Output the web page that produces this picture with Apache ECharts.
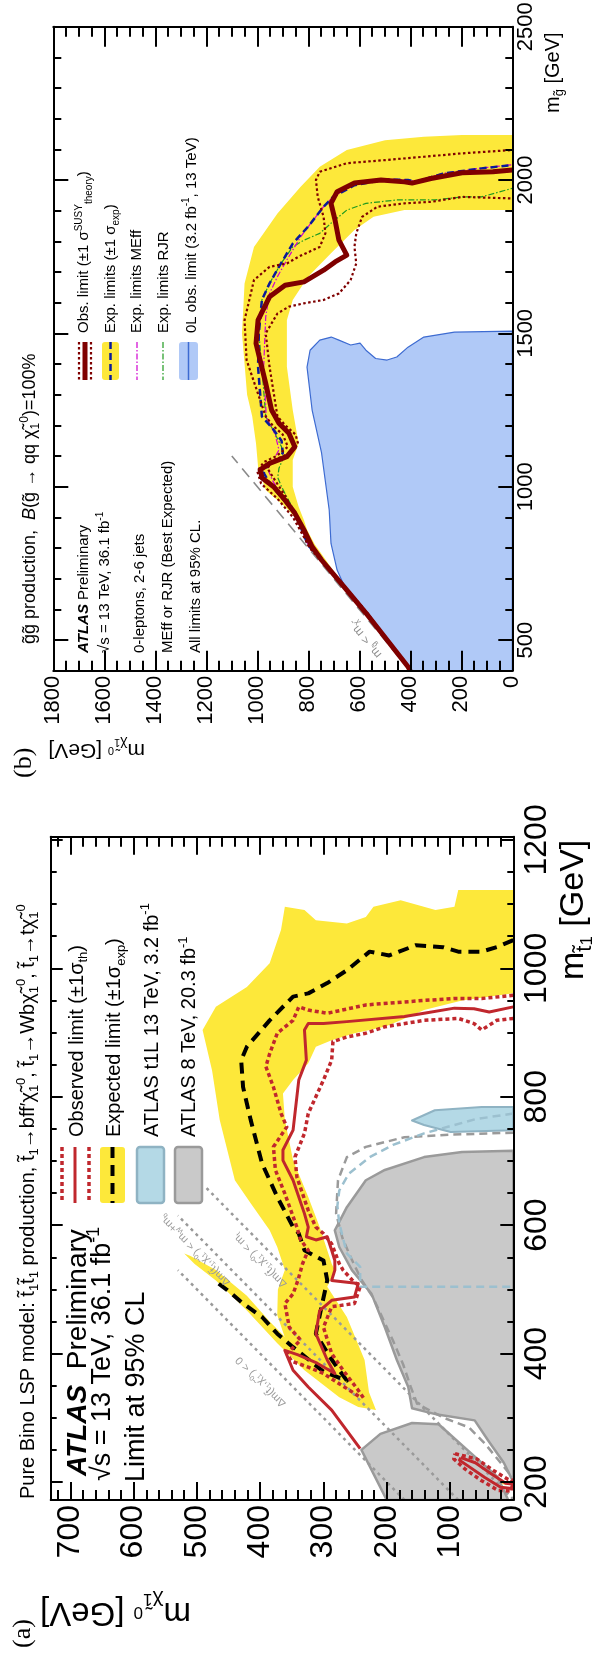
<!DOCTYPE html>
<html><head><meta charset="utf-8">
<script src="https://cdn.jsdelivr.net/npm/echarts@6/dist/echarts.min.js"></script>
<style>html,body{margin:0;padding:0;background:#fff}#c{width:604px;height:1656px}</style>
</head><body><div id="c"></div>
<script>
// ---------------- tick values ----------------
const aChiMajor = [0,100,200,300,400,500,600,700];
const aChiMinor = [0,20,40,60,80,100,120,140,160,180,200,220,240,260,280,300,320,340,360,380,400,420,440,460,480,500,520,540,560,580,600,620,640,660,680,700,720];
const aStopMajor = [200,400,600,800,1000,1200];
const aStopMinor = [200,250,300,350,400,450,500,550,600,650,700,750,800,850,900,950,1000,1050,1100,1150,1200];
const bChiMajor = [0,200,400,600,800,1000,1200,1400,1600,1800];
const bChiMinor = [0,50,100,150,200,250,300,350,400,450,500,550,600,650,700,750,800,850,900,950,1000,1050,1100,1150,1200,1250,1300,1350,1400,1450,1500,1550,1600,1650,1700,1750,1800];
const bGlMajor = [500,1000,1500,2000,2500];
const bGlMinor = [400,500,600,700,800,900,1000,1100,1200,1300,1400,1500,1600,1700,1800,1900,2000,2100,2200,2300,2400,2500];

// ---------------- panel (a): [m_chi, m_stop] ----------------
const aExpBandMain = [[0,1122],[87,1122],[93,1096],[123,1091],[178,1106],[221,1096],[233,1080],[263,1070],[312,1075],[330,1091],[361,1096],[367,1060],[385,1008],[421,971],[470,940],[491,904],[476,841],[464,764],[440,670],[415,634],[385,592],[373,566],[361,530],[372,500],[373,460],[361,425],[335,395],[290,360],[250,330],[217,312],[228,340],[235,390],[263,457],[294,504],[282,530],[287,540],[306,597],[324,644],[348,701],[361,764],[364,805],[348,826],[324,852],[312,878],[287,888],[251,899],[203,909],[178,919],[141,935],[81,950],[0,961]];
const aExpBandStrip = [[520,556],[504,540],[470,514],[421,467],[373,416],[330,374],[275,332],[245,317],[217,312],[235,335],[280,360],[330,395],[385,450],[421,490],[470,530],[510,552]];
const aExpBandBlob = [[75,232],[50,218],[25,203],[10,195],[30,200],[55,214],[75,228]];
const aLimit8A = [[0,200],[15,230],[40,265],[61,296],[120,305],[160,315],[166,348],[184,390],[203,441],[224,493],[255,530],[275,566],[282,592],[263,628],[233,670],[203,686],[141,706],[81,714],[0,716]];
const aLimit8B = [[200,172],[240,250],[210,275],[160,292],[118,290],[67,245],[25,208],[8,172]];
const aExp8 = [[0,744],[100,741],[172,737],[233,722],[263,706],[277,670],[280,618],[270,580],[256,548],[240,515],[222,488],[205,452],[190,420],[174,383],[162,348],[152,322],[110,300],[70,285],[45,260],[20,230],[0,205]];
const aT1L = [[0,784],[50,784],[124,779],[160,763],[141,756],[99,745],[0,748]];
const aT1LExp = [[0,774],[60,765],[141,743],[190,725],[227,706],[260,680],[275,654],[278,630],[275,603],[263,556],[242,535],[242,504],[0,504]];
const aDm0 = [[172,172],[530,530]];
const aDmWb = [[87,172],[530,615]];
const aDmT = [[0,173],[488,661]];
const aExp = [[0,1044],[26,1033],[50,1026],[87,1026],[111,1033],[154,1036],[196,1020],[227,1026],[263,997],[294,977],[324,961],[348,956],[385,919],[421,878],[430,857],[427,815],[415,764],[397,696],[373,644],[348,597],[339,587],[330,561],[312,551],[300,545],[294,514],[303,473],[312,431],[290,395],[275,374],[263,358],[300,372],[348,410],[373,431],[397,457],[427,478],[452,499],[470,512]];
const aObs = [[0,940],[38,932],[62,937],[93,938],[141,930],[172,925],[263,917],[300,914],[324,914],[330,904],[327,857],[339,826],[345,774],[348,748],[364,717],[364,701],[348,670],[330,618],[324,597],[327,582],[312,577],[294,582],[287,561],[282,545],[282,530],[287,514],[245,509],[251,488],[287,483],[306,467],[312,431],[294,390],[282,369],[310,385],[340,398],[361,405],[348,374],[324,348],[287,312],[263,280],[242,252]];
const aObsUp = [[0,958],[50,953],[93,953],[141,950],[233,943],[294,930],[324,935],[339,940],[348,919],[373,899],[385,867],[391,847],[379,815],[367,774],[358,753],[379,722],[376,686],[361,649],[342,597],[336,577],[324,561],[333,540],[340,515],[348,493],[361,478],[354,441],[336,421],[358,400],[350,388],[324,379],[300,369],[275,353],[251,338],[242,332]];
const aObsDn = [[0,922],[26,919],[50,904],[62,914],[87,922],[141,919],[203,909],[233,899],[263,893],[285,886],[287,857],[300,826],[324,774],[330,743],[345,706],[342,675],[324,623],[312,597],[300,587],[287,571],[275,540],[269,530],[255,515],[242,504],[251,478],[287,473],[300,441],[287,400],[269,374],[245,343],[236,330]];
const aObsBlob = [[83,238],[60,230],[35,213],[12,198],[2,197],[2,190],[20,192],[45,207],[70,224],[85,234],[83,238]];
const aObsBlobSig = [[92,244],[58,236],[30,217],[8,204],[2,203],[2,186],[24,187],[50,202],[76,220],[94,236],[92,244]];

// ---------------- panel (b): [m_chi, m_gluino] ----------------
const b0L = [[400,400],[485,500],[580,600],[650,660],[687,728],[711,815],[718,924],[748,1110],[785,1250],[805,1390],[793,1445],[755,1478],[710,1488],[680,1478],[634,1462],[597,1468],[574,1445],[536,1418],[491,1413],[453,1423],[409,1455],[347,1488],[227,1504],[0,1507],[0,400]];
const bExpBand = [[0,2147],[197,2147],[347,2141],[499,2130],[649,2098],[755,2043],[830,1978],[921,1891],[1013,1782],[1050,1663],[1060,1500],[1040,1300],[1020,1230],[1005,1141],[997,1065],[967,989],[891,935],[830,880],[790,815],[700,710],[560,572],[400,400],[555,572],[690,712],[775,812],[805,860],[817,891],[838,935],[861,1000],[861,1087],[838,1141],[861,1250],[884,1391],[884,1543],[861,1609],[801,1685],[711,1761],[619,1837],[544,1880],[423,1902],[272,1902],[121,1902],[0,1902]];
const bObs = [[400,400],[409,413],[574,588],[649,663],[748,761],[785,804],[817,859],[853,914],[891,956],[936,1000],[981,1028],[989,1055],[952,1076],[884,1098],[853,1130],[876,1174],[915,1207],[944,1250],[967,1337],[1005,1467],[997,1543],[952,1619],[891,1657],[817,1668],[740,1706],[695,1733],[649,1755],[680,1804],[695,1869],[711,1924],[687,1962],[619,1990],[515,2000],[423,1994],[393,1990],[319,2005],[197,2024],[76,2027],[0,2033]];
const bObsUp = [[400,400],[570,590],[650,668],[750,765],[800,810],[860,900],[920,960],[985,1010],[1000,1050],[975,1080],[925,1100],[880,1130],[900,1170],[940,1200],[967,1229],[1042,1413],[1050,1543],[1013,1674],[952,1717],[884,1728],[838,1750],[755,1782],[733,1826],[740,1880],[763,1945],[770,2000],[755,2027],[649,2055],[499,2065],[347,2076],[197,2087],[0,2098]];
const bObsDn = [[400,400],[570,585],[645,658],[745,755],[795,800],[850,900],[890,970],[930,1020],[960,1060],[940,1085],[870,1110],[840,1140],[850,1170],[890,1200],[921,1229],[952,1391],[967,1500],[921,1565],[876,1587],[817,1598],[740,1609],[680,1630],[634,1674],[612,1728],[619,1782],[612,1826],[589,1880],[529,1913],[423,1924],[317,1929],[197,1945],[0,1940]];
const bExp = [[400,400],[570,588],[650,665],[750,765],[800,808],[853,914],[900,960],[950,1010],[975,1045],[960,1070],[920,1085],[900,1110],[905,1150],[940,1190],[982,1229],[997,1391],[994,1500],[982,1609],[952,1663],[915,1717],[861,1793],[801,1848],[740,1913],[703,1945],[619,1983],[499,2002],[409,2000],[378,1994],[272,2021],[121,2038],[0,2049]];
const bMEff = [[400,400],[600,620],[700,715],[800,810],[850,905],[900,965],[940,1020],[960,1060],[935,1090],[915,1120],[930,1170],[965,1229],[975,1391],[967,1554],[952,1630],[921,1685],[880,1745],[830,1815],[780,1870],[740,1913],[700,1948],[619,1985],[500,2003],[410,2001],[378,1995],[272,2022],[121,2039],[0,2050]];
const bRJR = [[400,400],[600,620],[700,712],[800,808],[850,914],[880,960],[905,1000],[920,1030],[915,1060],[900,1090],[905,1130],[935,1180],[967,1229],[982,1391],[994,1500],[982,1609],[952,1663],[907,1728],[861,1782],[817,1804],[755,1826],[711,1859],[649,1902],[574,1924],[453,1935],[303,1935],[197,1945],[121,1945],[0,1973]];
const bDiag = [[400,400],[1100,1100]];

// ---------------- styling ----------------
const FF = "'Liberation Sans', Arial, Helvetica, sans-serif";
const YEL = '#fde83a', RED = '#c0272d', MAROON = '#7f0000';
const plainNum = function(v) { return String(v); };

function poly(pts, xi, yi, fill, stroke, lw, z) {
  return {type:'custom', xAxisIndex:xi, yAxisIndex:yi, z:z, silent:true, animation:false, clip:true,
    data: pts,
    renderItem: function(params, api) {
      if (params.dataIndex !== 0) return null;
      return {type:'polygon', shape:{points: pts.map(p => api.coord(p))},
        style:{fill: fill, stroke: stroke || null, lineWidth: lw || 0, lineJoin:'round'}};
    }};
}
function line(pts, xi, yi, color, width, type, z) {
  return {type:'line', data: pts, xAxisIndex:xi, yAxisIndex:yi, showSymbol:false, symbol:'none',
    smooth:false, silent:true, animation:false, clip:true, z:z,
    lineStyle:{color:color, width:width, type:type, cap:'butt', join:'round'}};
}
function xAx(grid, pos, max, ticks, len, showLine, label) {
  return {gridIndex:grid, type:'value', position:pos, inverse:true, min:0, max:max, z:10,
    axisLine:{show:showLine, onZero:false, lineStyle:{color:'#000', width:2}},
    axisTick:{show:true, inside:true, length:len, customValues:ticks, lineStyle:{color:'#000', width:2}},
    axisLabel: label ? Object.assign({show:true, customValues:ticks, rotate:90, color:'#000', fontFamily:FF, formatter:plainNum}, label) : {show:false},
    splitLine:{show:false}, minorTick:{show:false}};
}
function yAx(grid, pos, min, max, ticks, len, showLine, label) {
  return {gridIndex:grid, type:'value', position:pos, min:min, max:max, z:10,
    axisLine:{show:showLine, onZero:false, lineStyle:{color:'#000', width:2}},
    axisTick:{show:true, inside:true, length:len, customValues:ticks, lineStyle:{color:'#000', width:2}},
    axisLabel: label ? Object.assign({show:true, customValues:ticks, rotate:90, color:'#000', fontFamily:FF, formatter:plainNum}, label) : {show:false},
    splitLine:{show:false}, minorTick:{show:false}};
}
const gA = {left:50.7, right:90.7, top:836.7, bottom:156, containLabel:false, outerBoundsMode:'none'};
const gB = {left:53.3, right:91.7, top:26.7, bottom:985.3, containLabel:false, outerBoundsMode:'none'};

const option = {
  backgroundColor:'#fff', animation:false,
  grid:[Object.assign({}, gA), Object.assign({}, gA), Object.assign({}, gB), Object.assign({}, gB)],
  xAxis:[
    xAx(0,'bottom',731,aChiMajor,18,true,{fontSize:32, margin:5}),
    xAx(0,'top',731,aChiMajor,18,true,null),
    xAx(1,'bottom',731,aChiMinor,10,false,null),
    xAx(1,'top',731,aChiMinor,10,false,null),
    xAx(2,'bottom',1800,bChiMajor,20,true,{fontSize:22, margin:5}),
    xAx(2,'top',1800,bChiMajor,20,true,null),
    xAx(3,'bottom',1800,bChiMinor,10,false,null),
    xAx(3,'top',1800,bChiMinor,10,false,null)
  ],
  yAxis:[
    yAx(0,'right',172,1205,aStopMajor,13,true,{fontSize:32, margin:8}),
    yAx(0,'left',172,1205,aStopMajor,12,true,null),
    yAx(1,'right',172,1205,aStopMinor,6,false,null),
    yAx(1,'left',172,1205,aStopMinor,6,false,null),
    yAx(2,'right',400,2500,bGlMajor,14,true,{fontSize:22, margin:3}),
    yAx(2,'left',400,2500,bGlMajor,15,true,null),
    yAx(3,'right',400,2500,bGlMinor,7,false,null),
    yAx(3,'left',400,2500,bGlMinor,8,false,null)
  ],
  series:[
    // panel a
    poly(aExpBandMain,0,0,YEL,null,0,1),
    poly(aExpBandStrip,0,0,YEL,null,0,1),
    poly(aExpBandBlob,0,0,YEL,null,0,1),
    poly(aLimit8A,0,0,'#c9c9c9','#9a9a9a',2.5,2),
    poly(aLimit8B,0,0,'#c9c9c9','#9a9a9a',2.5,2),
    poly(aT1L,0,0,'#b4d9e6','#8fb3c3',2,2),
    line(aExp8,0,0,'#9a9a9a',2.5,[8,5],3),
    line(aT1LExp,0,0,'#9cc0cf',2.5,[8,5],3),
    line(aDm0,0,0,'#9a9a9a',2.5,[3,4],3),
    line(aDmWb,0,0,'#9a9a9a',2.5,[3,4],3),
    line(aDmT,0,0,'#9a9a9a',2.5,[3,4],3),
    line(aExp,0,0,'#000',4,[11,7],4),
    line(aObsUp,0,0,RED,3.5,[4,3],5),
    line(aObsDn,0,0,RED,3.5,[4,3],5),
    line(aObsBlobSig,0,0,RED,3.5,[4,3],5),
    line(aObs,0,0,RED,3,'solid',6),
    line(aObsBlob,0,0,RED,3,'solid',6),
    // panel b
    poly(b0L,4,4,'#b0c9f7','#3d6bd1',1.2,1),
    poly(bExpBand,4,4,YEL,null,0,1),
    line(bDiag,4,4,'#8a8a8a',1.6,[11,7],3),
    line(bRJR,4,4,'#1f9a1f',1.2,[6,2,1.5,2],4),
    line(bMEff,4,4,'#d000d0',1.2,[6,2,1.5,2],4),
    line(bExp,4,4,'#0a1a9a',2.5,[7,4],4),
    line(bObsUp,4,4,MAROON,2.2,[2.5,2.5],5),
    line(bObsDn,4,4,MAROON,2.2,[2.5,2.5],5),
    line(bObs,4,4,MAROON,5,'solid',6)
  ]
};

const chart = echarts.init(document.getElementById('c'), null, {renderer:'canvas', width:604, height:1656});
chart.setOption(option);

// ---------------- texts & legend swatches ----------------
function rich(size, color) {
  const sm = Math.round(size*0.65), tn = Math.round(size*0.5);
  return {
    s:{fontSize:sm, fontFamily:FF, fill:color, verticalAlign:'bottom'},
    p:{fontSize:sm, fontFamily:FF, fill:color, verticalAlign:'top'},
    q:{fontSize:tn, fontFamily:FF, fill:color, verticalAlign:'bottom'},
    r:{fontSize:tn, fontFamily:FF, fill:color, verticalAlign:'middle'},
    b:{fontSize:size, fontFamily:FF, fill:color, fontWeight:'bold', fontStyle:'italic'},
    i:{fontSize:size, fontFamily:FF, fill:color, fontStyle:'italic'}
  };
}
function txt(x, y, rot, text, size, extra) {
  const color = (extra && extra.fill) || '#000';
  const family = (extra && extra.fontFamily) || FF;
  return {type:'text', x:x, y:y, rotation:rot, z:100, silent:true,
    style:Object.assign({text:text, fill:color, fontSize:size, fontFamily:family,
      textAlign:'left', align:'left', textVerticalAlign:'middle', verticalAlign:'middle',
      lineHeight:Math.round(size*1.3), rich:rich(size, color)}, extra || {})};
}
function vline(x, y1, y2, color, w, dash) {
  return {type:'line', z:100, silent:true, shape:{x1:x, y1:y1, x2:x, y2:y2},
    style:{stroke:color, lineWidth:w, lineDash:dash || null}};
}
function rect(x, y, w, h, fill, stroke, lw) {
  return {type:'rect', z:99, silent:true, shape:{x:x, y:y, width:w, height:h, r:3},
    style:{fill:fill, stroke:stroke || null, lineWidth:lw || 0}};
}
const UP = Math.PI/2, FLIP = Math.PI;
const chi = '\u03c7\u0303', tt = 't\u0303', gg = 'g\u0303';

const graphics = [
  // panel b
  txt(24, 778, UP, '(b)', 26, {fontFamily:"'Liberation Serif', 'DejaVu Serif', serif"}),
  txt(30, 644, UP, gg+gg+' production,  {i|B}('+gg+' \u2192 qq '+chi+'{s|1}{p|0})=100%', 18),
  txt(84, 653, UP, '{b|ATLAS} Preliminary', 15),
  txt(105, 653, UP, '\u221As = 13 TeV, 36.1 fb{p|-1}', 15),
  txt(140, 653, UP, '0-leptons, 2-6 jets', 15),
  txt(168, 653, UP, 'MEff or RJR (Best Expected)', 15),
  txt(196, 653, UP, 'All limits at 95% CL.', 15),
  txt(84, 333, UP, 'Obs. limit (\u00b11 \u03c3{p|SUSY}{s|theory})', 15),
  txt(111, 333, UP, 'Exp. limits (\u00b11 \u03c3{s|exp})', 15),
  txt(137, 333, UP, 'Exp. limits MEff', 15),
  txt(164, 333, UP, 'Exp. limits RJR', 15),
  txt(191.5, 333, UP, '0L obs. limit (3.2 fb{p|-1}, 13 TeV)', 15),
  vline(79, 342, 380, MAROON, 2.2, [2.5,2.5]),
  vline(85, 342, 380, MAROON, 5),
  vline(91, 342, 380, MAROON, 2.2, [2.5,2.5]),
  rect(102, 342, 17, 38, YEL),
  vline(110.5, 342, 380, '#0a1a9a', 2.5, [7,4]),
  vline(137, 342, 380, '#d000d0', 1.2, [6,2,1.5,2]),
  vline(163, 342, 380, '#1f9a1f', 1.2, [6,2,1.5,2]),
  rect(179, 342, 19, 38, '#b0c9f7'),
  vline(188.5, 342, 380, '#3d6bd1', 1.5),
  txt(553, 113, UP, 'm{s|'+gg+'} [GeV]', 20),
  txt(145, 750, FLIP, 'm{s|'+chi+'}{q|1}{r|0} [GeV]', 21),
  // panel a
  txt(23.5, 1648, UP, '(a)', 26, {fontFamily:"'Liberation Serif', 'DejaVu Serif', serif"}),
  txt(28, 1499, UP, 'Pure Bino LSP model: '+tt+'{s|1}'+tt+'{s|1} production, '+tt+'{s|1}\u2192bff\u2032'+chi+'{s|1}{p|0}, '+tt+'{s|1}\u2192Wb'+chi+'{s|1}{p|0}, '+tt+'{s|1}\u2192t'+chi+'{s|1}{p|0}', 20),
  txt(78, 1476, UP, '{b|ATLAS}  Preliminary', 28),
  txt(103, 1481, UP, '\u221As = 13 TeV, 36.1 fb{p|-1}', 27),
  txt(137, 1482, UP, 'Limit at 95% CL', 27),
  txt(77, 1137, UP, 'Observed limit (\u00b11\u03c3{s|th})', 20),
  txt(114.5, 1137, UP, 'Expected limit (\u00b11\u03c3{s|exp})', 20),
  txt(152, 1137, UP, 'ATLAS t1L 13 TeV, 3.2 fb{p|-1}', 20),
  txt(189.5, 1137, UP, 'ATLAS 8 TeV, 20.3 fb{p|-1}', 20),
  vline(62, 1147, 1203, RED, 3.5, [4,3]),
  vline(75, 1147, 1203, RED, 3),
  vline(89, 1147, 1203, RED, 3.5, [4,3]),
  rect(100, 1147, 25, 56, YEL),
  vline(112.5, 1147, 1203, '#000', 4, [11,7]),
  rect(137, 1147, 27, 56, '#b4d9e6', '#8fb3c3', 2.5),
  rect(175, 1147, 27, 56, '#c9c9c9', '#9a9a9a', 2.5),
  txt(574, 980, UP, 'm{s|'+tt+'}{q|1} [GeV]', 34),
  txt(191, 1612, FLIP, 'm{s|'+chi+'}{q|1}{r|0} [GeV]', 33)
];

// labels attached to kinematic lines, placed through the axes
function pA(c, s) { return chart.convertToPixel({xAxisIndex:0, yAxisIndex:0}, [c, s]); }
function pB(c, g) { return chart.convertToPixel({xAxisIndex:4, yAxisIndex:4}, [c, g]); }
const a0 = pA(0, 300), a1 = pA(100, 400);
const rotA = Math.atan2(-(a1[1]-a0[1]), a1[0]-a0[0]);
const b0 = pB(500, 500), b1 = pB(600, 600);
const rotB = Math.atan2(-(b1[1]-b0[1]), b1[0]-b0[0]);
const dmLabels = [
  {pos:[399,356], text:'\u0394m('+tt+'{s|1},'+chi+'{s|1}{p|0}) < 0'},
  {pos:[503,561], text:'\u0394m('+tt+'{s|1},'+chi+'{s|1}{p|0}) < m{s|W}+m{s|b}'},
  {pos:[400,545], text:'\u0394m('+tt+'{s|1},'+chi+'{s|1}{p|0}) < m{s|t}'}
];
dmLabels.forEach(function(l) {
  const p = pA(l.pos[0], l.pos[1]);
  graphics.push(txt(p[0], p[1], rotA, l.text, 11, {fill:'#9a9a9a', textAlign:'center', align:'center'}));
});
const pg = pB(574, 500);
graphics.push(txt(pg[0], pg[1], rotB, 'm{s|'+gg+'} < m{s|'+chi+'}', 12, {fill:'#8a8a8a', textAlign:'center', align:'center'}));

chart.setOption({graphic: graphics});
</script></body></html>
